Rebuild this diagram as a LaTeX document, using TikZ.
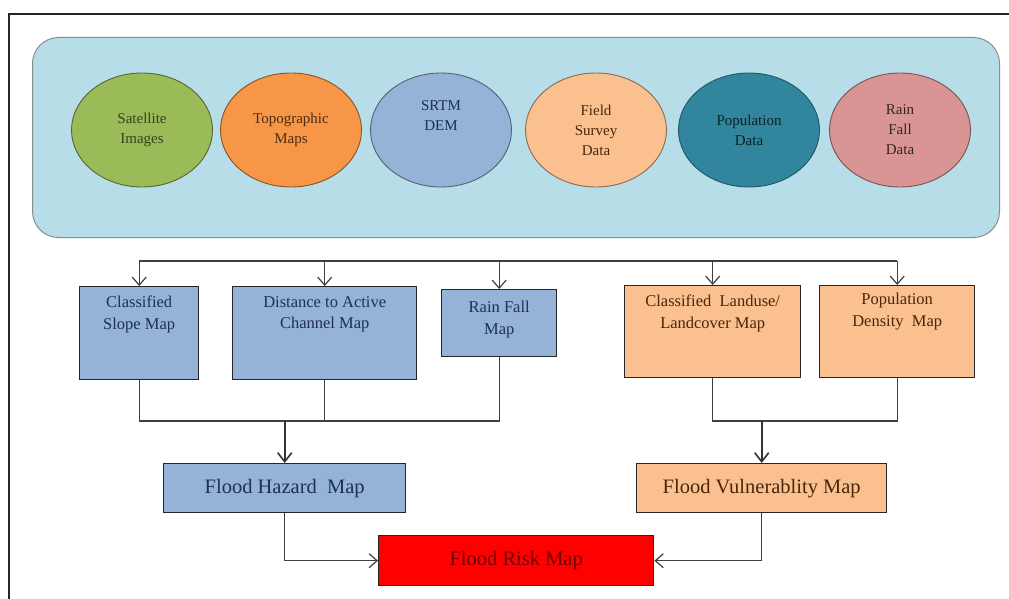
\documentclass[tikz,border=0pt]{standalone}
\usepackage{fontspec}
\setmainfont{Liberation Serif}
\newfontfamily\tnr{Liberation Serif}
\usetikzlibrary{shapes.geometric,arrows.meta}
\definecolor{bgblue}{HTML}{B7DEE8}
\definecolor{satg}{HTML}{9BBB59}
\definecolor{topo}{HTML}{F79646}
\definecolor{srtm}{HTML}{95B3D7}
\definecolor{field}{HTML}{FAC090}
\definecolor{popc}{HTML}{31859C}
\definecolor{rainc}{HTML}{D99594}
\definecolor{bluebox}{HTML}{95B3D7}
\definecolor{peach}{HTML}{FAC090}
\definecolor{navytxt}{HTML}{1F3052}
\definecolor{browntxt}{HTML}{4A2608}
\definecolor{linec}{HTML}{404040}
\definecolor{riskred}{HTML}{FF0000}
\definecolor{risktxt}{HTML}{700000}
\tikzset{
  dataell/.style={ellipse, minimum width=141pt, minimum height=114pt, inner sep=0pt,
    line width=0.9pt, align=center, font=\tnr\fontsize{15}{20}\selectfont},
  mapbox/.style={rectangle, line width=1.4pt, draw=black!85, inner sep=0pt, anchor=north west},
  boxlbl/.style={anchor=north, inner sep=0pt, align=center, font=\tnr\fontsize{16.5}{21.5}\selectfont},
  bigbox/.style={rectangle, line width=1.4pt, draw=black!85, inner sep=0pt, anchor=north west,
    font=\tnr\fontsize{20.5}{24}\selectfont},
  conn/.style={draw=linec, line width=1.2pt},
  arr/.style={conn, -{Straight Barb[length=8pt,width=14pt,line width=1.2pt]}},
  thickarr/.style={draw=black!80, line width=2pt, -{Straight Barb[length=9pt,width=14pt,line width=1.6pt]}}
}
\begin{document}
\begin{tikzpicture}[x=1pt,y=-1pt]
\useasboundingbox[fill=white] (0,0) rectangle (1009,599);
% outer frame (cropped)
\draw[line width=1.5pt, black!85] (1009,14) -- (9,14) -- (9,599);
% data panel
\node[draw=black!45, fill=bgblue, line width=1pt, rounded corners=26pt, minimum width=967pt,
  minimum height=200pt, anchor=north west, inner sep=0pt] (panel) at (32,37) {};
% data ellipses
\node[dataell, fill=satg, draw=satg!55!black, text=satg!35!black] (sat) at (142,130) {Satellite\\Images};
\node[dataell, fill=topo, draw=topo!55!black, text=topo!30!black] (topo) at (291,130) {Topographic\\Maps};
\node[dataell, fill=srtm, draw=srtm!55!black, text=navytxt] (srtm) at (441,130) {SRTM\\DEM\\[8pt]};
\node[dataell, fill=field, draw=field!55!black, text=browntxt] (field) at (596,130) {Field\\Survey\\Data};
\node[dataell, fill=popc, draw=popc!65!black, text=popc!25!black] (pop) at (749,130) {Population\\Data};
\node[dataell, fill=rainc, draw=rainc!55!black, text=rainc!25!black] (rain) at (900,130) {Rain\\Fall\\Data};
% input maps
\node[mapbox, fill=bluebox, minimum width=119pt, minimum height=93pt,
  label={[boxlbl, text=navytxt, yshift=-10pt]north:Classified\\Slope Map}] (slope) at (79,286) {};
\node[mapbox, fill=bluebox, minimum width=184pt, minimum height=93pt,
  label={[boxlbl, text=navytxt, yshift=-10pt]north:Distance to Active\\Channel Map}] (dist) at (232,286) {};
\node[mapbox, fill=bluebox, minimum width=115pt, minimum height=67pt,
  label={[boxlbl, text=navytxt, yshift=-12pt]north:Rain Fall\\Map}] (rfm) at (441,289) {};
\node[mapbox, fill=peach, minimum width=176pt, minimum height=92pt,
  label={[boxlbl, text=browntxt, yshift=-10pt]north:Classified\ \ Landuse/\\Landcover Map}] (land) at (624,285) {};
\node[mapbox, fill=peach, minimum width=155pt, minimum height=92pt,
  label={[boxlbl, text=browntxt, yshift=-8pt]north:Population\\Density\ \ Map}] (popd) at (819,285) {};
% intermediate maps
\node[bigbox, fill=bluebox, text=navytxt, minimum width=242pt, minimum height=49pt] (haz) at (163,463) {Flood Hazard\ \ Map};
\node[bigbox, fill=peach, text=browntxt, minimum width=250pt, minimum height=49pt] (vul) at (636,463) {Flood Vulnerablity Map};
% final map
\node[bigbox, fill=riskred, text=risktxt, minimum width=275pt, minimum height=50pt] (risk) at (378,535) {Flood Risk Map};
% distribution bus
\coordinate (bus) at (0,261);
\draw[conn] (slope.north |- bus) -- (popd.north |- bus);
\foreach \n in {slope,dist,rfm,land,popd} \draw[arr] (\n.north |- bus) -- (\n.north);
% hazard merge
\coordinate (mh) at (0,421);
\draw[conn] (slope.south) -- (slope.south |- mh) -- (dist.south |- mh);
\draw[conn] (dist.south) -- (dist.south |- mh);
\draw[conn] (rfm.south) -- (rfm.south |- mh) -- (dist.south |- mh);
\draw[thickarr] (haz.north |- mh) -- (haz.north);
% vulnerability merge
\draw[conn] (land.south) -- (land.south |- mh) -- (popd.south |- mh) -- (popd.south);
\draw[thickarr] (vul.north |- mh) -- (vul.north);
% to risk
\draw[arr] (haz.south) |- (risk.west);
\draw[arr] (vul.south) |- (risk.east);
\end{tikzpicture}
\end{document}
